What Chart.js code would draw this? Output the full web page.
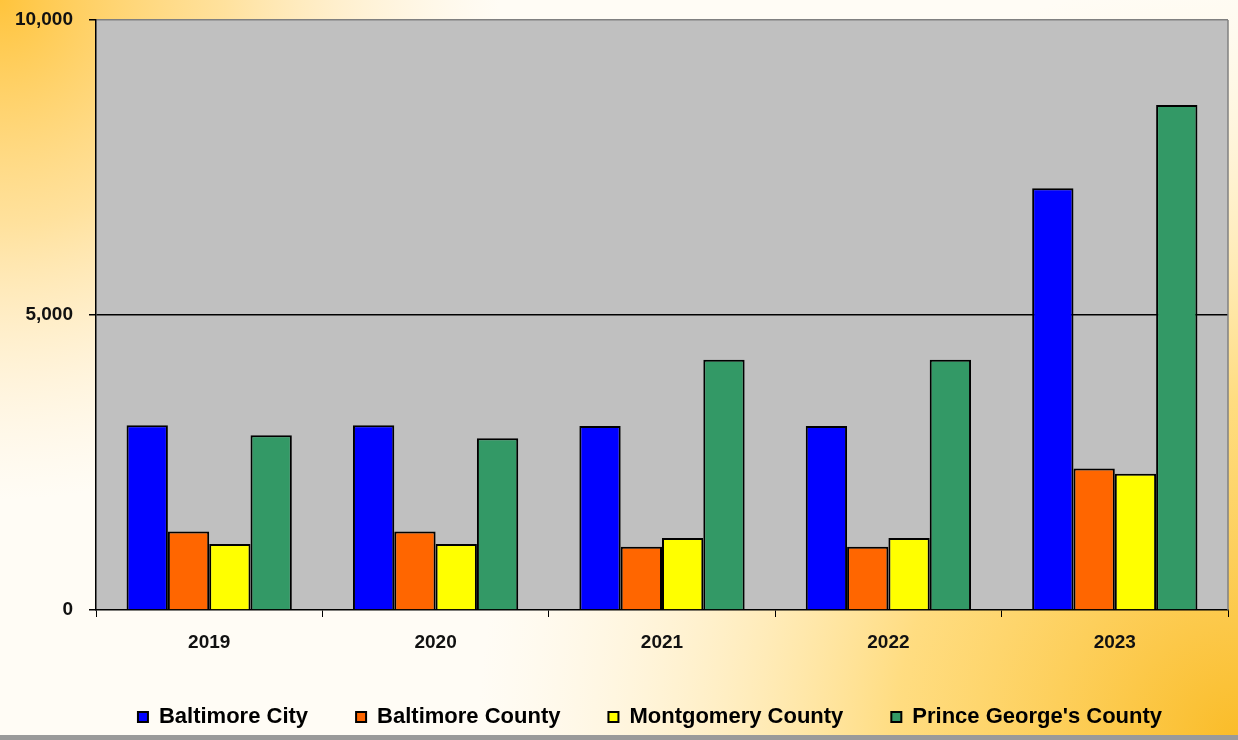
<!DOCTYPE html>
<html>
<head>
<meta charset="utf-8">
<script src="https://cdn.jsdelivr.net/npm/chart.js@4.4.1/dist/chart.umd.min.js"></script>
<style>
  html, body { margin: 0; padding: 0; background: #fff; }
  #wrap { width: 1238px; height: 740px; position: relative; }
</style>
</head>
<body>
<div id="wrap"><canvas id="c" width="1238" height="740"></canvas></div>
<script>
const categories = ['2019', '2020', '2021', '2022', '2023'];
const seriesNames = ['Baltimore City', 'Baltimore County', 'Montgomery County', "Prince George's County"];
const baltimoreCity = [3130, 3130, 3120, 3120, 7150];
const baltimoreCounty = [1330, 1330, 1070, 1070, 2400];
const montgomeryCounty = [1120, 1120, 1220, 1220, 2310];
const princeGeorgesCounty = [2960, 2910, 4240, 4240, 8560];
const yTicks = [0, 5000, 10000];

const colors = ['#0000FF', '#FF6600', '#FFFF00', '#339966'];
const values = [baltimoreCity, baltimoreCounty, montgomeryCounty, princeGeorgesCounty];

const bgPlugin = {
  id: 'bg',
  afterLayout(chart) {
    const lg = chart.legend;
    if (lg) { lg.left += 36; lg.right += 36; }
  },
  beforeDraw(chart) {
    const ctx = chart.ctx;
    const W = chart.width, H = chart.height;
    ctx.save();
    ctx.fillStyle = '#FFFCF5';
    ctx.fillRect(0, 0, W, H);
    let g = ctx.createRadialGradient(0, 0, 0, 0, 0, 500);
    g.addColorStop(0, 'rgba(255,196,60,1)');
    g.addColorStop(0.45, 'rgba(255,214,120,0.7)');
    g.addColorStop(1, 'rgba(255,232,190,0)');
    ctx.fillStyle = g;
    ctx.fillRect(0, 0, W, H);
    g = ctx.createRadialGradient(W, H, 0, W, H, 760);
    g.addColorStop(0, 'rgba(250,188,40,1)');
    g.addColorStop(0.45, 'rgba(255,210,90,0.75)');
    g.addColorStop(1, 'rgba(255,235,190,0)');
    ctx.fillStyle = g;
    ctx.fillRect(0, 0, W, H);
    ctx.fillStyle = '#9A9A9A';
    ctx.fillRect(0, H - 5, W, 5);
    const a = chart.chartArea;
    ctx.fillStyle = '#C0C0C0';
    ctx.fillRect(a.left, a.top, a.right - a.left, a.bottom - a.top);
    ctx.restore();
  },
  afterDatasetsDraw(chart) {
    const ctx = chart.ctx, a = chart.chartArea;
    ctx.save();
    ctx.strokeStyle = '#808080';
    ctx.lineWidth = 1.5;
    ctx.beginPath();
    ctx.moveTo(a.right, a.top);
    ctx.lineTo(a.right, a.bottom);
    ctx.stroke();
    ctx.restore();
  }
};

new Chart(document.getElementById('c'), {
  type: 'bar',
  data: {
    labels: categories,
    datasets: seriesNames.map((n, i) => ({
      label: n,
      data: values[i],
      backgroundColor: colors[i],
      borderColor: '#000',
      borderWidth: 2,
      categoryPercentage: 0.73,
      barPercentage: 1.0
    }))
  },
  options: {
    responsive: false,
    animation: false,
    layout: { padding: { top: 20, right: 10, bottom: 2, left: 0 } },
    plugins: {
      tooltip: { enabled: false },
      legend: {
        position: 'bottom',
        labels: {
          color: '#000',
          boxWidth: 10,
          boxHeight: 10,
          padding: 48,
          font: { family: 'Liberation Sans, Arial, sans-serif', size: 22, weight: 'bold' }
        }
      }
    },
    scales: {
      x: {
        grid: { drawOnChartArea: false, tickLength: 7, color: '#000', offset: true },
        border: { color: '#000', width: 1.5 },
        ticks: { color: '#111', padding: 14, font: { family: 'Liberation Sans, Arial, sans-serif', size: 19, weight: 'bold' } },
        afterFit(s) { s.height = 48; s.paddingLeft = 0; s.paddingRight = 0; }
      },
      y: {
        min: 0, max: 10000,
        afterBuildTicks(s) { s.ticks = yTicks.map(v => ({ value: v })); },
        grid: {
          tickLength: 7,
          tickColor: '#000',
          color: c => c.tick && c.tick.value === 5000 ? '#000' : (c.tick && c.tick.value === 10000 ? '#808080' : 'rgba(0,0,0,0)'),
          lineWidth: 1.5
        },
        border: { color: '#000', width: 1.5 },
        ticks: {
          color: '#111', padding: 16,
          font: { family: 'Liberation Sans, Arial, sans-serif', size: 19, weight: 'bold' },
          callback: v => v.toLocaleString('en-US')
        },
        afterFit(s) { s.width = 96; s.paddingTop = 0; s.paddingBottom = 0; }
      }
    }
  },
  plugins: [bgPlugin]
});
</script>
</body>
</html>
